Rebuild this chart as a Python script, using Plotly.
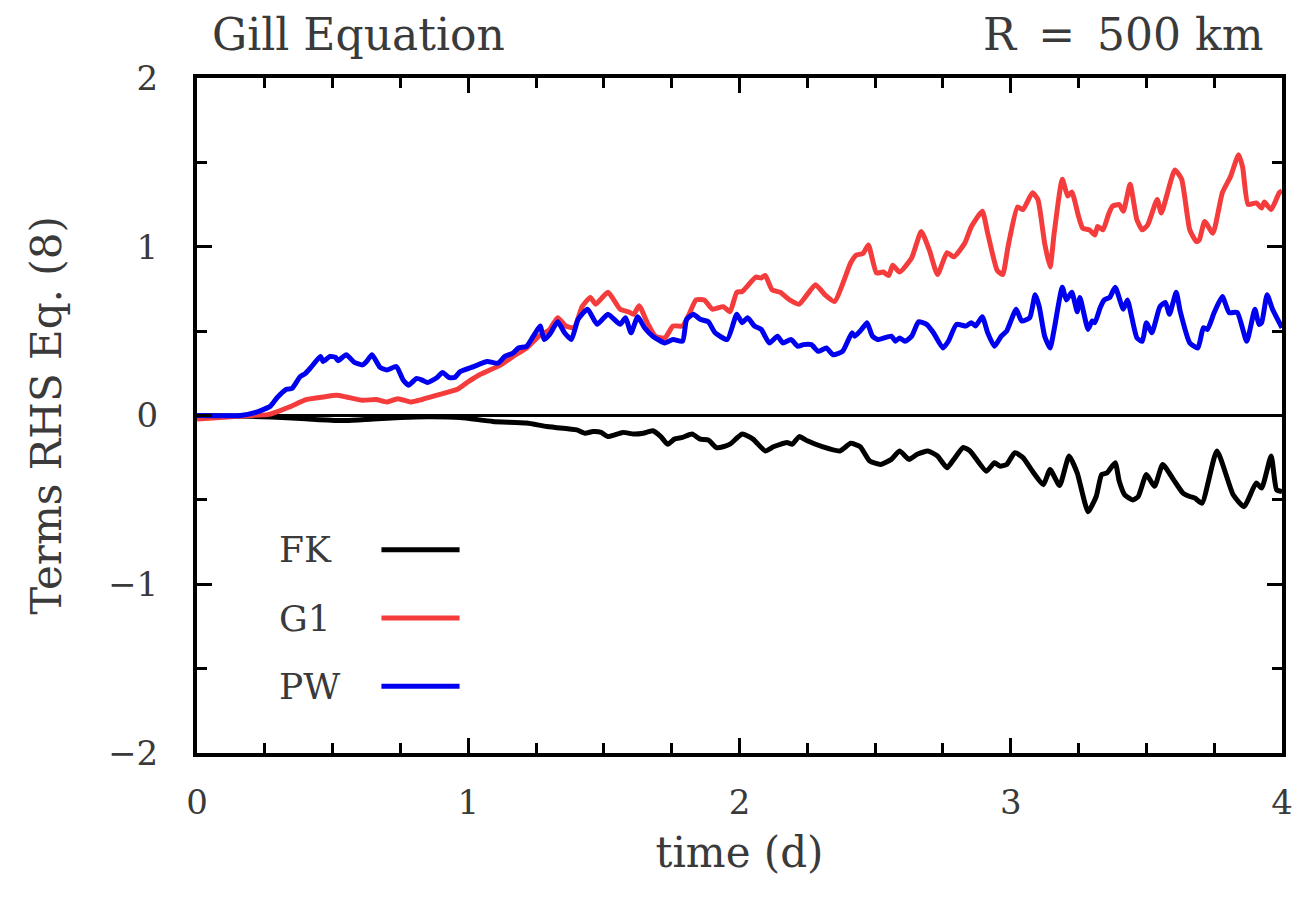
import plotly.graph_objects as go

# ---- data ----
t_g1 = [0.00, 0.10, 0.20, 0.26, 0.30, 0.34, 0.405, 0.465, 0.515, 0.55, 0.61, 0.66, 0.70, 0.74, 0.79, 0.83, 0.895, 0.96,
        1.00, 1.04, 1.12, 1.165, 1.215, 1.26, 1.30, 1.33, 1.36, 1.39, 1.42, 1.45, 1.47, 1.515, 1.56, 1.59, 1.61, 1.63,
        1.66, 1.69, 1.725, 1.755, 1.79, 1.81, 1.84, 1.87, 1.90, 1.94, 1.965, 1.99, 2.01, 2.06, 2.08, 2.095, 2.12, 2.15,
        2.185, 2.22, 2.28, 2.315, 2.35, 2.41, 2.43, 2.455, 2.475, 2.505, 2.53, 2.55, 2.565, 2.59, 2.635, 2.67, 2.70,
        2.73, 2.765, 2.79, 2.83, 2.855, 2.895, 2.915, 2.95, 2.97, 2.99, 3.025, 3.045, 3.08, 3.10, 3.125, 3.145, 3.16,
        3.19, 3.21, 3.225, 3.25, 3.265, 3.29, 3.31, 3.32, 3.34, 3.36, 3.375, 3.40, 3.415, 3.44, 3.465, 3.485, 3.505,
        3.54, 3.555, 3.605, 3.63, 3.66, 3.685, 3.695, 3.715, 3.745, 3.78, 3.81, 3.84, 3.855, 3.875, 3.905, 3.925,
        3.935, 3.96, 3.99, 4.00]
g1 = [-0.02, -0.01, 0.0, 0.005, 0.025, 0.05, 0.095, 0.11, 0.12, 0.11, 0.09, 0.095, 0.08, 0.10, 0.08, 0.095, 0.125, 0.155,
      0.20, 0.24, 0.30, 0.35, 0.40, 0.47, 0.51, 0.58, 0.53, 0.52, 0.645, 0.70, 0.66, 0.73, 0.63, 0.615, 0.60, 0.65,
      0.55, 0.47, 0.46, 0.53, 0.53, 0.585, 0.685, 0.685, 0.63, 0.645, 0.615, 0.73, 0.735, 0.82, 0.815, 0.83, 0.745, 0.73,
      0.685, 0.66, 0.775, 0.715, 0.675, 0.905, 0.95, 0.96, 1.01, 0.845, 0.85, 0.83, 0.89, 0.85, 0.935, 1.09, 0.98,
      0.835, 0.965, 0.94, 1.02, 1.12, 1.21, 1.08, 0.86, 0.835, 1.00, 1.235, 1.22, 1.32, 1.28, 1.02, 0.88, 1.08,
      1.40, 1.30, 1.325, 1.18, 1.11, 1.10, 1.07, 1.12, 1.10, 1.19, 1.24, 1.25, 1.21, 1.37, 1.16, 1.10, 1.13,
      1.28, 1.20, 1.455, 1.40, 1.10, 1.03, 1.04, 1.15, 1.08, 1.32, 1.415, 1.545, 1.47, 1.25, 1.26, 1.23,
      1.265, 1.22, 1.32, 1.33]

t_pw = [0.00, 0.16, 0.22, 0.27, 0.295, 0.33, 0.35, 0.38, 0.40, 0.42, 0.455, 0.465, 0.49, 0.51, 0.52, 0.55, 0.58, 0.61,
        0.625, 0.645, 0.675, 0.70, 0.735, 0.76, 0.78, 0.81, 0.83, 0.85, 0.885, 0.905, 0.93, 0.95, 0.97, 1.02, 1.07,
        1.11, 1.135, 1.165, 1.185, 1.215, 1.24, 1.265, 1.28, 1.30, 1.33, 1.355, 1.38, 1.405, 1.44, 1.475, 1.515, 1.56,
        1.58, 1.60, 1.625, 1.65, 1.68, 1.725, 1.755, 1.79, 1.805, 1.83, 1.855, 1.885, 1.91, 1.955, 1.99, 2.01, 2.03,
        2.055, 2.08, 2.11, 2.14, 2.16, 2.19, 2.215, 2.235, 2.265, 2.29, 2.32, 2.345, 2.38, 2.415, 2.425, 2.45, 2.47,
        2.49, 2.51, 2.56, 2.575, 2.59, 2.61, 2.635, 2.66, 2.69, 2.715, 2.75, 2.77, 2.80, 2.835, 2.855, 2.87, 2.895,
        2.915, 2.94, 2.965, 2.985, 3.02, 3.04, 3.07, 3.09, 3.105, 3.125, 3.145, 3.16, 3.19, 3.205, 3.225, 3.245,
        3.255, 3.285, 3.30, 3.31, 3.33, 3.345, 3.365, 3.385, 3.415, 3.43, 3.465, 3.485, 3.50, 3.52, 3.55, 3.57,
        3.585, 3.61, 3.625, 3.66, 3.69, 3.71, 3.725, 3.75, 3.78, 3.805, 3.835, 3.87, 3.90, 3.915, 3.925, 3.945,
        3.965, 4.00]
pw = [0.0, 0.0, 0.02, 0.055, 0.105, 0.155, 0.16, 0.23, 0.25, 0.285, 0.35, 0.32, 0.35, 0.345, 0.325, 0.36, 0.315, 0.30,
      0.32, 0.36, 0.285, 0.27, 0.29, 0.21, 0.18, 0.22, 0.21, 0.195, 0.225, 0.255, 0.225, 0.225, 0.26, 0.29, 0.32,
      0.31, 0.35, 0.37, 0.40, 0.41, 0.47, 0.53, 0.45, 0.48, 0.555, 0.49, 0.45, 0.57, 0.63, 0.54, 0.60, 0.54,
      0.58, 0.49, 0.585, 0.52, 0.47, 0.43, 0.45, 0.44, 0.57, 0.60, 0.57, 0.555, 0.49, 0.45, 0.60, 0.55, 0.58,
      0.53, 0.51, 0.43, 0.47, 0.43, 0.45, 0.41, 0.42, 0.42, 0.38, 0.40, 0.36, 0.38, 0.49, 0.47, 0.51, 0.55,
      0.47, 0.45, 0.47, 0.44, 0.46, 0.44, 0.47, 0.555, 0.54, 0.49, 0.40, 0.44, 0.54, 0.53, 0.55, 0.53, 0.585,
      0.49, 0.41, 0.47, 0.50, 0.63, 0.56, 0.58, 0.715, 0.645, 0.47, 0.40, 0.51, 0.76, 0.685, 0.73, 0.615,
      0.70, 0.51, 0.56, 0.55, 0.64, 0.685, 0.70, 0.76, 0.63, 0.685, 0.46, 0.44, 0.55, 0.49, 0.645, 0.67,
      0.60, 0.73, 0.615, 0.43, 0.40, 0.52, 0.51, 0.61, 0.705, 0.61, 0.61, 0.44, 0.63, 0.54, 0.55, 0.715,
      0.63, 0.52]

t_fk = [0.00, 0.20, 0.35, 0.45, 0.55, 0.65, 0.75, 0.85, 0.97, 1.09, 1.215, 1.29, 1.375, 1.40, 1.43, 1.46, 1.49, 1.515,
        1.57, 1.61, 1.645, 1.68, 1.71, 1.735, 1.76, 1.79, 1.825, 1.855, 1.885, 1.915, 1.94, 1.965, 2.01, 2.05, 2.095,
        2.125, 2.175, 2.195, 2.22, 2.25, 2.305, 2.37, 2.41, 2.445, 2.48, 2.52, 2.56, 2.59, 2.625, 2.655, 2.695, 2.73,
        2.765, 2.79, 2.825, 2.85, 2.91, 2.94, 2.96, 2.985, 3.015, 3.045, 3.08, 3.12, 3.145, 3.18, 3.215, 3.245,
        3.285, 3.315, 3.335, 3.355, 3.385, 3.40, 3.42, 3.45, 3.47, 3.50, 3.53, 3.56, 3.60, 3.635, 3.66, 3.68,
        3.705, 3.76, 3.82, 3.86, 3.905, 3.925, 3.96, 3.98, 4.00]
fk = [0.0, -0.005, -0.015, -0.025, -0.03, -0.02, -0.012, -0.008, -0.012, -0.035, -0.045, -0.065, -0.08, -0.085, -0.105,
      -0.095, -0.10, -0.125, -0.10, -0.11, -0.105, -0.09, -0.125, -0.17, -0.14, -0.13, -0.11, -0.14, -0.145, -0.19,
      -0.185, -0.17, -0.11, -0.14, -0.21, -0.185, -0.16, -0.17, -0.125, -0.15, -0.185, -0.21, -0.165, -0.185, -0.27,
      -0.29, -0.26, -0.21, -0.26, -0.23, -0.21, -0.24, -0.31, -0.26, -0.19, -0.21, -0.33, -0.28, -0.30, -0.29,
      -0.22, -0.25, -0.33, -0.41, -0.32, -0.415, -0.24, -0.34, -0.57, -0.48, -0.35, -0.34, -0.28, -0.39, -0.47,
      -0.50, -0.48, -0.35, -0.42, -0.29, -0.38, -0.46, -0.48, -0.49, -0.52, -0.21, -0.47, -0.54, -0.40, -0.43,
      -0.24, -0.44, -0.45]

series_names = ["FK", "G1", "PW"]
series_colors = ["#000000", "#f53c3c", "#0000f0"]

x_ticks = [0, 1, 2, 3, 4]
y_ticks = [-2, -1, 0, 1, 2]

FONT = "DejaVu Serif"
TXT = "#3a3a3a"

fig = go.Figure()
for tt, vv, nm, col in [(t_fk, fk, series_names[0], series_colors[0]),
                        (t_g1, g1, series_names[1], series_colors[1]),
                        (t_pw, pw, series_names[2], series_colors[2])]:
    fig.add_trace(go.Scatter(x=tt, y=vv, mode="lines", name=nm,
                             line=dict(color=col, width=5, shape="spline", smoothing=0.5)))

axis_common = dict(
    showline=True, linecolor="black", linewidth=4, mirror="allticks",
    ticks="inside", tickcolor="black", tickwidth=3, ticklen=15,
    showgrid=False, zeroline=False,
    tickfont=dict(family=FONT, size=34, color=TXT),
)

fig.update_xaxes(range=[0, 4], tickvals=x_ticks, ticktext=[str(v) for v in x_ticks],
                 minor=dict(ticks="inside", dtick=0.25, tick0=0, ticklen=10, tickwidth=3, tickcolor="black"),
                 title=dict(text="time (d)", font=dict(family=FONT, size=42, color=TXT), standoff=18),
                 ticklabelstandoff=16,
                 **axis_common)
fig.update_yaxes(range=[-2, 2], tickvals=y_ticks, ticktext=[str(v) if v >= 0 else "\u2212" + str(-v) for v in y_ticks],
                 minor=dict(ticks="inside", dtick=0.5, tick0=0, ticklen=10, tickwidth=3, tickcolor="black"),
                 title=dict(text="Terms RHS Eq. (8)", font=dict(family=FONT, size=42, color=TXT), standoff=34),
                 ticklabelstandoff=28,
                 **axis_common)

# zero line
fig.add_hline(y=0, line=dict(color="black", width=3), layer="below")

# title annotations
fig.add_annotation(text="Gill Equation", xref="paper", yref="paper", x=0.012, y=1.064,
                   xanchor="left", yanchor="middle", showarrow=False,
                   font=dict(family=FONT, size=44, color=TXT))
fig.add_annotation(text="R\u2002=\u2002500\u00a0km", xref="paper", yref="paper", x=0.984, y=1.064,
                   xanchor="right", yanchor="middle", showarrow=False,
                   font=dict(family=FONT, size=44, color=TXT))

# custom legend: label on the left, line sample on the right
leg_y = [0.301, 0.200, 0.099]
for name, color, yy in zip(series_names, series_colors, leg_y):
    fig.add_annotation(text=name, xref="paper", yref="paper", x=0.074, y=yy,
                       xanchor="left", yanchor="middle", showarrow=False,
                       font=dict(family=FONT, size=36, color=TXT))
    fig.add_shape(type="line", xref="paper", yref="paper", x0=0.170, x1=0.242, y0=yy, y1=yy,
                  line=dict(color=color, width=5))

fig.update_layout(
    width=1306, height=919,
    margin=dict(l=197, r=24, t=78, b=166),
    paper_bgcolor="white", plot_bgcolor="white",
    showlegend=False,
    font=dict(family=FONT, color=TXT),
)

fig.write_html("out.html")
